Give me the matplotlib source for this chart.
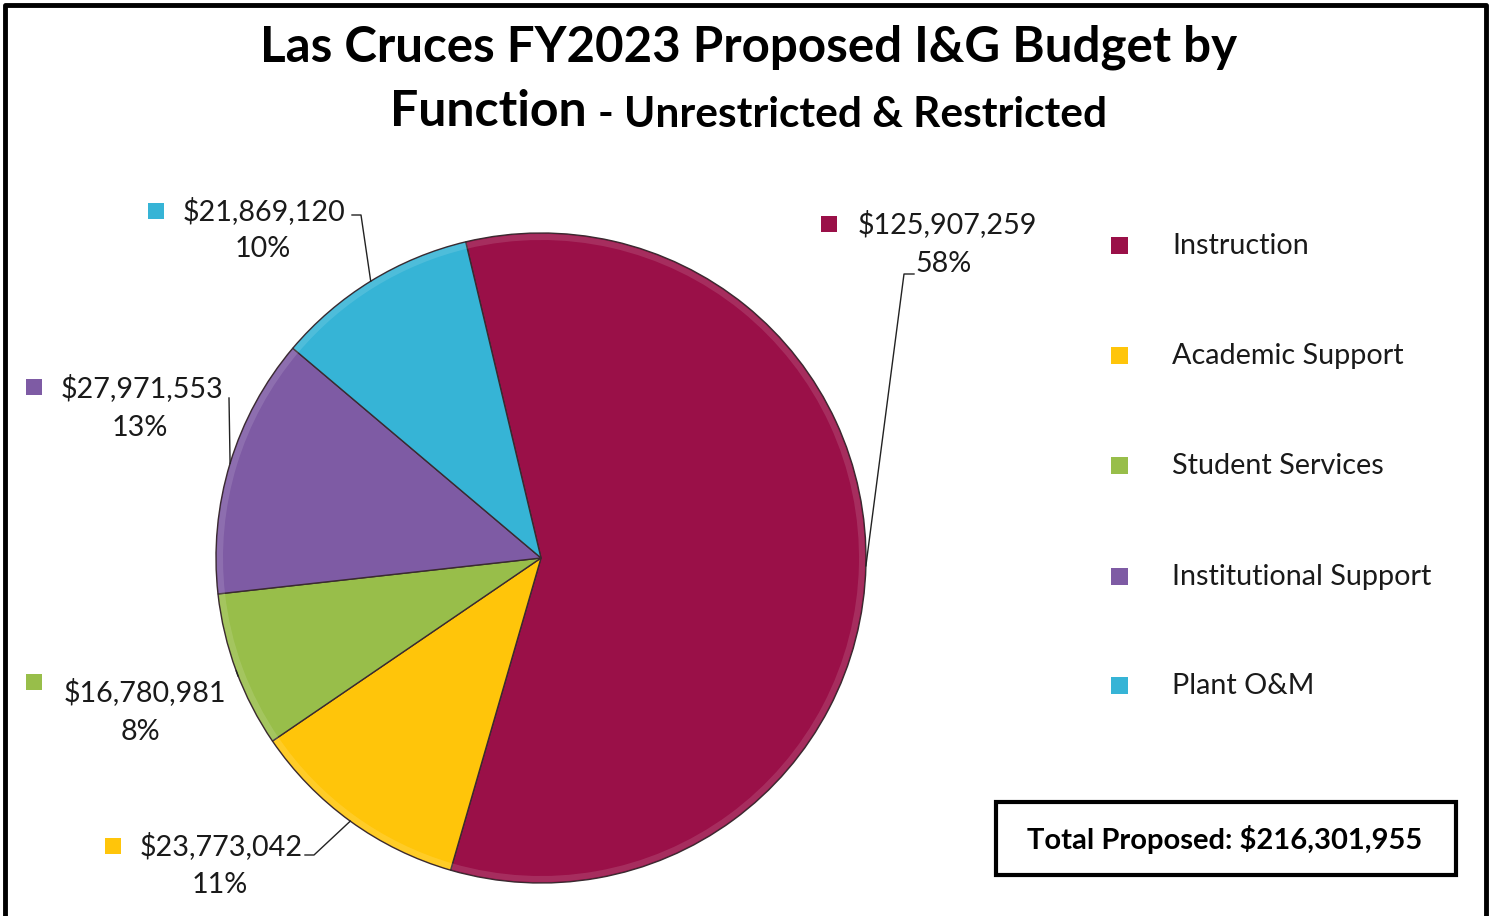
import numpy as np
import matplotlib.pyplot as plt
from matplotlib.patches import Rectangle, Wedge

plt.rcParams['font.family'] = ['Lato', 'DejaVu Sans']

# Budget by function (dollars)
functions = ['Instruction', 'Academic Support', 'Student Services',
             'Institutional Support', 'Plant O&M']
amounts = [125907259, 23773042, 16780981, 27971553, 21869120]
colors = ['#9A1048', '#FFC50A', '#98BE4A', '#7E5BA4', '#36B4D6']
total = sum(amounts)

W, H = 1489, 916
fig = plt.figure(figsize=(W / 100, H / 100), dpi=100)
ax = fig.add_axes([0, 0, 1, 1])

def py(y):
    # pixel row (from top) to data y
    return H - y

cx, cy, r = 541, py(558), 325
wedges, _ = ax.pie(amounts, colors=colors, startangle=103.4, counterclock=False,
                   center=(cx, cy), radius=r,
                   wedgeprops=dict(edgecolor='#3a2a30', linewidth=1.0))

# soft lighter rim on each slice
for w in wedges:
    ax.add_patch(Wedge((cx, cy), r - 1, w.theta1, w.theta2, width=6,
                       facecolor='white', alpha=0.12, edgecolor='none'))

ax.set_xlim(0, W)
ax.set_ylim(0, H)
ax.axis('off')

# data labels: marker position, text anchor, leader line end
lbl_font = 20.7
label_pos = {
    'Instruction':           dict(mk=(829, 224), txt=(858, 224), pct=(944, 264), lead=[(904, 274), (914, 274)]),
    'Academic Support':      dict(mk=(113, 846), txt=(140, 846), pct=(220, 885), lead=[(314, 855), (305, 855)]),
    'Student Services':      dict(mk=(34, 682), txt=(64, 692), pct=(140, 732), lead=[(238, 676)]),
    'Institutional Support': dict(mk=(34, 387), txt=(61, 388), pct=(140, 428), lead=[(229, 398)]),
    'Plant O&M':             dict(mk=(156, 211), txt=(183, 211), pct=(263, 249), lead=[(361, 215), (352, 215)]),
}

for name, amt, c, w in zip(functions, amounts, colors, wedges):
    p = label_pos[name]
    mid = np.deg2rad((w.theta1 + w.theta2) / 2)
    sx, sy = cx + r * np.cos(mid), cy + r * np.sin(mid)
    xs = [sx] + [q[0] for q in p['lead']]
    ys = [sy] + [py(q[1]) for q in p['lead']]
    ax.plot(xs, ys, color='#222222', lw=1.0)
    ax.add_patch(Rectangle((p['mk'][0] - 8, py(p['mk'][1]) - 8), 16, 16,
                           facecolor=c, edgecolor='none'))
    ax.text(p['txt'][0], py(p['txt'][1]), f'${amt:,}', fontsize=lbl_font,
            ha='left', va='center', color='#1a1a1a')
    ax.text(p['pct'][0], py(p['pct'][1]), f'{round(amt / total * 100)}%',
            fontsize=lbl_font, ha='center', va='center', color='#1a1a1a')

# legend
leg_y = [246, 356, 466, 577, 686]
for name, c, y in zip(functions, colors, leg_y):
    ax.add_patch(Rectangle((1111, py(y) - 8), 17, 17, facecolor=c, edgecolor='none'))
    ax.text(1172, py(y), name, fontsize=lbl_font, ha='left', va='center', color='#1a1a1a')

# title
ax.text(749, py(47), 'Las Cruces FY2023 Proposed I&G Budget by', fontsize=35.5,
        fontweight='bold', ha='center', va='center', color='black')
ax.text(587, py(111), 'Function', fontsize=36, fontweight='bold',
        ha='right', va='center', color='black')
ax.text(598, py(115), '- Unrestricted & Restricted', fontsize=30.5, fontweight='bold',
        ha='left', va='center', color='black')

# total box
ax.add_patch(Rectangle((996, py(875)), 460, 73, facecolor='white',
                       edgecolor='black', linewidth=3))
ax.text(1225, py(839), f'Total Proposed: ${total:,}', fontsize=21,
        fontweight='bold', ha='center', va='center', color='black')

# outer frame
ax.plot([5, 5, W - 3, W - 3], [0, py(5), py(5), 0], color='black', lw=3.5)

fig.savefig('out.png', dpi=100)
